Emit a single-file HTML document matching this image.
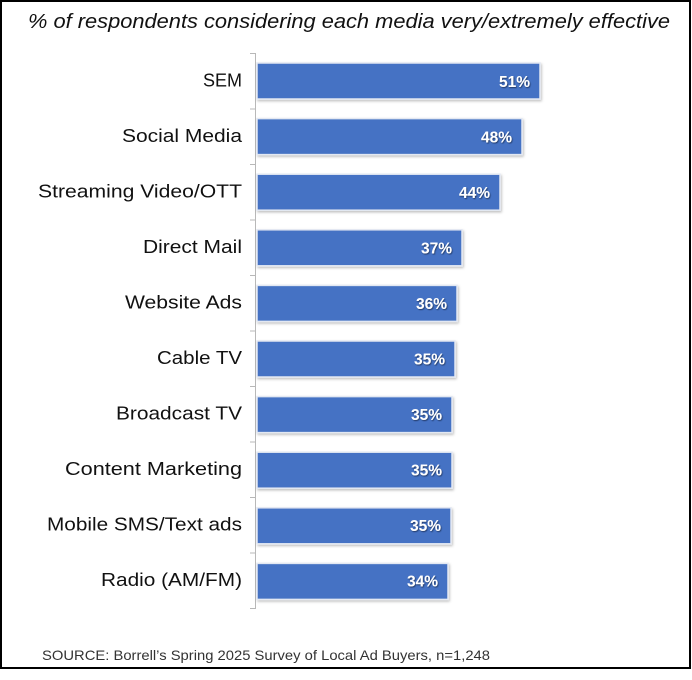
<!DOCTYPE html>
<html>
<head>
<meta charset="utf-8">
<style>
  html,body{margin:0;padding:0;background:#fff;}
  svg{display:block;}
</style>
</head>
<body>
<svg width="692" height="680" viewBox="0 0 692 680" xmlns="http://www.w3.org/2000/svg">
  <defs>
    <filter id="sh" x="-10%" y="-30%" width="120%" height="160%">
      <feDropShadow dx="1" dy="1.5" stdDeviation="1.2" flood-color="#000" flood-opacity="0.25"/>
    </filter>
    <filter id="ts" x="-20%" y="-30%" width="140%" height="160%">
      <feDropShadow dx="0.8" dy="1" stdDeviation="0.6" flood-color="#1a2a50" flood-opacity="0.8"/>
    </filter>
  </defs>
  <rect x="0" y="0" width="692" height="680" fill="#fff"/>
  <rect x="1" y="1" width="689" height="667" fill="#fff" stroke="#000" stroke-width="2"/>

  <text x="28" y="28" font-family="Liberation Sans, sans-serif" font-style="italic" font-size="20" fill="#111" textLength="642" lengthAdjust="spacingAndGlyphs">% of respondents considering each media very/extremely effective</text>

  <!-- axis -->
  <g stroke="#b8b8b8" stroke-width="1">
    <line x1="255.5" y1="53" x2="255.5" y2="609"/>
    <line x1="250" y1="53.5" x2="255.5" y2="53.5"/>
    <line x1="250" y1="109" x2="255.5" y2="109"/>
    <line x1="250" y1="164.5" x2="255.5" y2="164.5"/>
    <line x1="250" y1="220" x2="255.5" y2="220"/>
    <line x1="250" y1="275.5" x2="255.5" y2="275.5"/>
    <line x1="250" y1="331" x2="255.5" y2="331"/>
    <line x1="250" y1="386.5" x2="255.5" y2="386.5"/>
    <line x1="250" y1="442" x2="255.5" y2="442"/>
    <line x1="250" y1="497.5" x2="255.5" y2="497.5"/>
    <line x1="250" y1="553" x2="255.5" y2="553"/>
    <line x1="250" y1="608.5" x2="255.5" y2="608.5"/>
  </g>

  <!-- bars -->
  <g fill="#4472C4" stroke="#e3e8f2" stroke-width="1.5" filter="url(#sh)">
    <rect x="257" y="63" width="283" height="36"/>
    <rect x="257" y="118.6" width="265" height="36"/>
    <rect x="257" y="174.2" width="243" height="36"/>
    <rect x="257" y="229.8" width="205" height="36"/>
    <rect x="257" y="285.4" width="200" height="36"/>
    <rect x="257" y="341" width="198" height="36"/>
    <rect x="257" y="396.6" width="195" height="36"/>
    <rect x="257" y="452.2" width="195" height="36"/>
    <rect x="257" y="507.8" width="194" height="36"/>
    <rect x="257" y="563.4" width="191" height="36"/>
  </g>

  <!-- category labels -->
  <g font-family="Liberation Sans, sans-serif" font-size="18" fill="#111" text-anchor="end">
    <text x="242" y="86.5">SEM</text>
    <text x="242" y="142" textLength="120" lengthAdjust="spacingAndGlyphs">Social Media</text>
    <text x="242" y="197.5" textLength="204" lengthAdjust="spacingAndGlyphs">Streaming Video/OTT</text>
    <text x="242" y="253" textLength="99" lengthAdjust="spacingAndGlyphs">Direct Mail</text>
    <text x="242" y="308.5" textLength="117" lengthAdjust="spacingAndGlyphs">Website Ads</text>
    <text x="242" y="364" textLength="85" lengthAdjust="spacingAndGlyphs">Cable TV</text>
    <text x="242" y="419.5" textLength="126" lengthAdjust="spacingAndGlyphs">Broadcast TV</text>
    <text x="242" y="475" textLength="177" lengthAdjust="spacingAndGlyphs">Content Marketing</text>
    <text x="242" y="530.5" textLength="195" lengthAdjust="spacingAndGlyphs">Mobile SMS/Text ads</text>
    <text x="242" y="586" textLength="141" lengthAdjust="spacingAndGlyphs">Radio (AM/FM)</text>
  </g>

  <!-- value labels -->
  <g font-family="Liberation Sans, sans-serif" font-size="15.5" font-weight="bold" fill="#fff" text-anchor="end" filter="url(#ts)">
    <text x="530" y="87">51%</text>
    <text x="512" y="142.5">48%</text>
    <text x="490" y="198">44%</text>
    <text x="452" y="253.5">37%</text>
    <text x="447" y="309">36%</text>
    <text x="445" y="364.5">35%</text>
    <text x="442" y="420">35%</text>
    <text x="442" y="475.5">35%</text>
    <text x="441" y="531">35%</text>
    <text x="438" y="586.5">34%</text>
  </g>

  <text x="42" y="660" font-family="Liberation Sans, sans-serif" font-size="14" fill="#333" textLength="448" lengthAdjust="spacingAndGlyphs">SOURCE: Borrell’s Spring 2025 Survey of Local Ad Buyers, n=1,248</text>
</svg>
</body>
</html>
